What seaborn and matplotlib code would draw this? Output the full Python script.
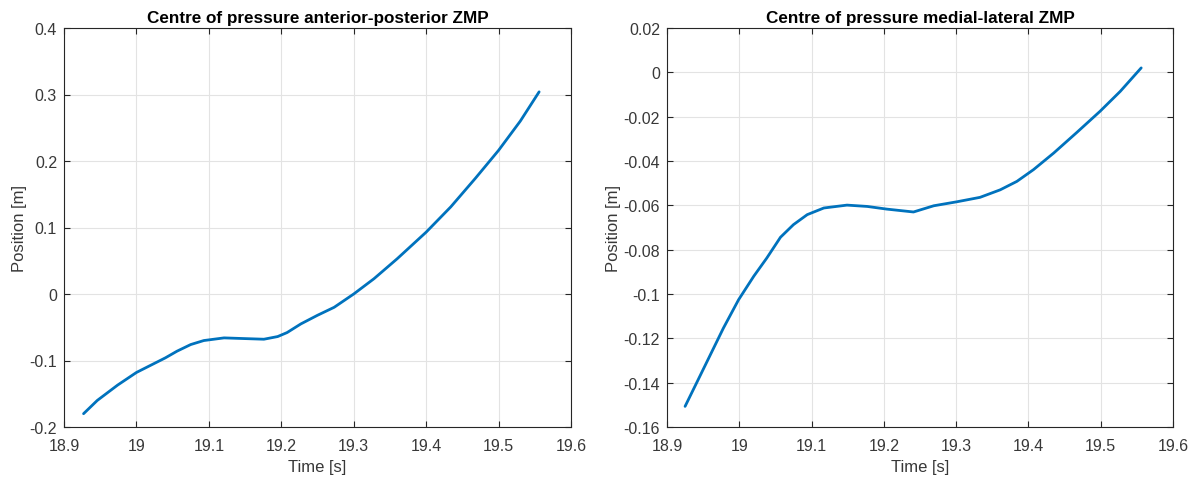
import matplotlib
matplotlib.use("Agg")
import matplotlib.pyplot as plt
from matplotlib.ticker import FuncFormatter
import numpy as np
import pandas as pd
import seaborn as sns

# Anterior-posterior ZMP trajectory
t_ap = [18.927, 18.946, 18.974, 19.000, 19.020, 19.040, 19.056, 19.075, 19.093,
        19.121, 19.148, 19.176, 19.195, 19.208, 19.227, 19.250, 19.273, 19.300,
        19.328, 19.360, 19.400, 19.434, 19.468, 19.500, 19.530, 19.556]
zmp_ap = [-0.180, -0.160, -0.137, -0.118, -0.107, -0.096, -0.086, -0.076, -0.070,
          -0.066, -0.067, -0.068, -0.064, -0.058, -0.045, -0.032, -0.020, 0.000,
          0.023, 0.053, 0.093, 0.131, 0.174, 0.216, 0.260, 0.304]

# Medial-lateral ZMP trajectory
t_ml = [18.925, 18.942, 18.960, 18.978, 18.999, 19.020, 19.038, 19.057, 19.075,
        19.094, 19.117, 19.149, 19.177, 19.204, 19.241, 19.269, 19.301, 19.333,
        19.361, 19.384, 19.407, 19.435, 19.467, 19.499, 19.527, 19.556]
zmp_ml = [-0.1507, -0.1394, -0.1274, -0.1154, -0.1026, -0.0920, -0.0838, -0.0744,
          -0.0687, -0.0642, -0.0612, -0.0599, -0.0605, -0.0617, -0.0630, -0.0602,
          -0.0584, -0.0564, -0.0530, -0.0492, -0.0439, -0.0364, -0.0271, -0.0176,
          -0.0086, 0.0020]

titles = ["Centre of pressure anterior-posterior ZMP",
          "Centre of pressure medial-lateral ZMP"]
x_ticks = [18.9, 19.0, 19.1, 19.2, 19.3, 19.4, 19.5, 19.6]
y_ticks_ap = [-0.2, -0.1, 0.0, 0.1, 0.2, 0.3, 0.4]
y_ticks_ml = [-0.16, -0.14, -0.12, -0.10, -0.08, -0.06, -0.04, -0.02, 0.0, 0.02]

sns.set_theme(style="white")
plt.rcParams["font.family"] = ["Liberation Sans", "DejaVu Sans"]
plt.rcParams["axes.unicode_minus"] = False

line_color = "#0072BD"
edge_color = "#262626"
text_color = "#383838"

fig = plt.figure(figsize=(11.99, 4.81), dpi=100)
ax_ap = fig.add_axes([64 / 1199, 53 / 481, 507 / 1199, 399 / 481])
ax_ml = fig.add_axes([667 / 1199, 53 / 481, 506 / 1199, 399 / 481])

fmt = FuncFormatter(lambda v, _: "%g" % round(v, 4))

panels = [
    (ax_ap, t_ap, zmp_ap, titles[0], y_ticks_ap),
    (ax_ml, t_ml, zmp_ml, titles[1], y_ticks_ml),
]

for ax, t, z, title, yt in panels:
    df = pd.DataFrame({"Time [s]": t, "Position [m]": z})
    sns.lineplot(data=df, x="Time [s]", y="Position [m]", ax=ax,
                 color=line_color, linewidth=2.0, sort=False)
    ax.set_xlim(x_ticks[0], x_ticks[-1])
    ax.set_ylim(yt[0], yt[-1])
    ax.set_xticks(x_ticks)
    ax.set_yticks(yt)
    ax.xaxis.set_major_formatter(fmt)
    ax.yaxis.set_major_formatter(fmt)
    ax.grid(True, color="#e3e3e3", linewidth=0.8)
    ax.set_axisbelow(True)
    for s in ax.spines.values():
        s.set_visible(True)
        s.set_color(edge_color)
        s.set_linewidth(0.8)
    ax.tick_params(direction="in", length=4, width=0.8, colors=edge_color,
                   labelcolor=text_color, labelsize=11.5,
                   top=True, right=True, bottom=True, left=True)
    ax.tick_params(axis="x", pad=8)
    ax.tick_params(axis="y", pad=5)
    ax.set_title(title, fontsize=12.3, fontweight="bold", color="black", pad=4)
    ax.set_xlabel("Time [s]", fontsize=12, color=text_color, labelpad=4)
    ax.set_ylabel("Position [m]", fontsize=12, color=text_color, labelpad=2)

fig.savefig("out.png", dpi=100)
